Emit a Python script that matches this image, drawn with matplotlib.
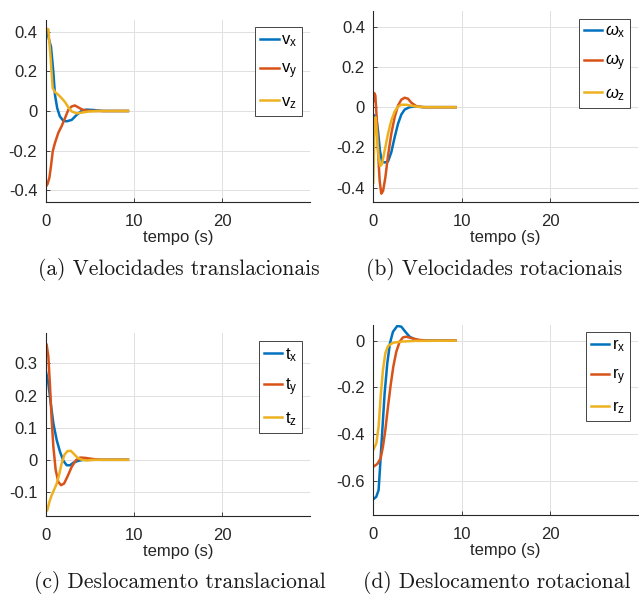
import matplotlib
matplotlib.use('Agg')
import matplotlib.pyplot as plt

plt.rcParams['font.family'] = ['Liberation Sans', 'DejaVu Sans']
plt.rcParams['mathtext.fontset'] = 'custom'
plt.rcParams['mathtext.rm'] = 'Liberation Sans'
plt.rcParams['mathtext.it'] = 'Liberation Sans:italic'

# --- (a) velocidades translacionais ---
t_vx = [0, 0.1, 0.49, 0.6, 0.86, 1.05, 1.3, 1.6, 2.0, 2.4, 2.94, 3.5, 4.1, 4.6, 5.4, 6.5, 9.3]
vx = [0.41, 0.41, 0.342, 0.325, 0.2, 0.082, 0.015, -0.027, -0.05, -0.052, -0.045, -0.02, 0.002, 0.007, 0.005, 0, 0]
t_vy = [0, 0.2, 0.42, 0.6, 0.8, 1.05, 1.43, 1.8, 2.19, 2.57, 2.94, 3.3, 3.7, 4.1, 4.6, 5.5, 9.3]
vy = [-0.384, -0.37, -0.337, -0.278, -0.203, -0.161, -0.11, -0.077, -0.035, 0.007, 0.023, 0.028, 0.018, 0.008, 0.002, 0, 0]
t_vz = [0, 0.3, 0.56, 0.79, 1.05, 1.43, 1.8, 2.19, 2.57, 2.94, 3.5, 4.1, 4.8, 5.8, 9.3]
vz = [0.417, 0.413, 0.267, 0.116, 0.096, 0.082, 0.065, 0.045, 0.018, -0.002, -0.012, -0.008, -0.003, 0, 0]

# --- (b) velocidades rotacionais ---
t_wx = [0, 0.34, 0.53, 0.75, 0.98, 1.28, 1.66, 2.03, 2.41, 2.79, 3.16, 3.54, 4.1, 4.67, 5.8, 9.3]
wx = [-0.037, -0.05, -0.117, -0.217, -0.27, -0.275, -0.27, -0.225, -0.15, -0.083, -0.037, -0.012, 0, 0.003, 0, 0]
t_wy = [0, 0.11, 0.23, 0.38, 0.53, 0.72, 0.9, 1.1, 1.36, 1.66, 2.03, 2.41, 2.79, 3.16, 3.54, 3.92, 4.3, 4.86, 5.6, 9.3]
wy = [0.03, 0.07, 0.058, -0.05, -0.217, -0.367, -0.43, -0.417, -0.35, -0.242, -0.133, -0.05, 0.008, 0.037, 0.047, 0.042, 0.022, 0.005, 0, 0]
t_wz = [0, 0.08, 0.15, 0.26, 0.41, 0.6, 0.79, 0.98, 1.28, 1.66, 2.03, 2.41, 2.79, 3.16, 3.73, 4.3, 5.05, 6.0, 9.3]
wz = [-0.375, -0.217, -0.067, -0.05, -0.133, -0.25, -0.292, -0.283, -0.217, -0.133, -0.067, -0.022, 0.003, 0.012, 0.012, 0.007, 0.002, 0, 0]

# --- (c) deslocamento translacional ---
t_tx = [0, 0.3, 0.57, 0.87, 1.25, 1.62, 2.0, 2.38, 2.75, 3.13, 3.7, 4.3, 9.3]
tx = [0.279, 0.238, 0.176, 0.113, 0.061, 0.025, -0.003, -0.017, -0.017, -0.009, -0.003, 0, 0]
t_ty = [0, 0.1, 0.3, 0.49, 0.68, 0.87, 1.13, 1.43, 1.74, 2.08, 2.45, 2.94, 3.43, 3.89, 4.45, 5.2, 6.2, 9.3]
ty = [0.357, 0.36, 0.322, 0.229, 0.124, 0.04, -0.032, -0.069, -0.079, -0.074, -0.053, -0.022, -0.001, 0.007, 0.006, 0.003, 0, 0]
t_tz = [0, 0.19, 0.42, 0.68, 0.94, 1.25, 1.55, 1.81, 2.11, 2.45, 2.83, 3.2, 3.58, 4.08, 4.64, 5.5, 9.3]
tz = [-0.162, -0.157, -0.131, -0.11, -0.094, -0.074, -0.043, -0.011, 0.015, 0.027, 0.028, 0.018, 0.007, 0, -0.002, 0, 0]

# --- (d) deslocamento rotacional ---
t_rx = [0, 0.34, 0.6, 0.79, 1.02, 1.28, 1.58, 1.88, 2.22, 2.71, 3.16, 3.62, 4.1, 4.67, 5.4, 9.3]
rx = [-0.678, -0.667, -0.638, -0.524, -0.382, -0.225, -0.097, -0.011, 0.038, 0.063, 0.06, 0.038, 0.017, 0.006, 0, 0]
t_ry = [0, 0.45, 0.83, 1.09, 1.36, 1.66, 1.96, 2.26, 2.6, 2.98, 3.35, 3.73, 4.3, 5.05, 6.0, 9.3]
ry = [-0.539, -0.527, -0.503, -0.453, -0.382, -0.282, -0.19, -0.111, -0.047, -0.004, 0.014, 0.017, 0.011, 0.004, 0, 0]
t_rz = [0, 0.34, 0.6, 0.83, 1.09, 1.36, 1.66, 2.22, 3.16, 4.67, 9.3]
rz = [-0.467, -0.439, -0.368, -0.239, -0.125, -0.054, -0.023, -0.009, -0.004, -0.001, 0]

cores = ['#0072BD', '#D95319', '#EDB120']

# posicao, series, legendas, ylim, yticks, legenda da figura, (x, y) da legenda
paineis = [
    ([0.0715, 0.6605, 0.4136, 0.3059], [(t_vx, vx), (t_vy, vy), (t_vz, vz)],
     ['$\\mathregular{v_x}$', '$\\mathregular{v_y}$', '$\\mathregular{v_z}$'],
     (-0.46, 0.46), [-0.4, -0.2, 0, 0.2, 0.4], '(a) Velocidades translacionais', (179, 270)),
    ([0.5842, 0.6610, 0.4142, 0.3205], [(t_wx, wx), (t_wy, wy), (t_wz, wz)],
     ['$\\omega_\\mathregular{x}$', '$\\omega_\\mathregular{y}$', '$\\omega_\\mathregular{z}$'],
     (-0.47, 0.478), [-0.4, -0.2, 0, 0.2, 0.4], '(b) Velocidades rotacionais', (494, 270)),
    ([0.0715, 0.1328, 0.4136, 0.3070], [(t_tx, tx), (t_ty, ty), (t_tz, tz)],
     ['$\\mathregular{t_x}$', '$\\mathregular{t_y}$', '$\\mathregular{t_z}$'],
     (-0.175, 0.394), [-0.1, 0, 0.1, 0.2, 0.3], '(c) Deslocamento translacional', (180, 582)),
    ([0.5842, 0.1345, 0.4142, 0.3193], [(t_rx, rx), (t_ry, ry), (t_rz, rz)],
     ['$\\mathregular{r_x}$', '$\\mathregular{r_y}$', '$\\mathregular{r_z}$'],
     (-0.745, 0.067), [-0.6, -0.4, -0.2, 0], '(d) Deslocamento rotacional', (497, 582)),
]

W, H = 639, 595
fig = plt.figure(figsize=(W / 100, H / 100), dpi=100)

for pos, series, labels, ylim, yticks, caption, cap in paineis:
    ax = fig.add_axes(pos)
    for (t, y), c, lab in zip(series, cores, labels):
        ax.plot(t, y, color=c, lw=1.8, label=lab)
    ax.set_xlim(0, 29.9)
    ax.set_ylim(*ylim)
    ax.set_xticks([0, 10, 20])
    ax.set_yticks(yticks)
    ax.set_yticklabels(['0' if v == 0 else f'{v:g}' for v in yticks])
    ax.grid(True, color='0.88', lw=0.7)
    ax.set_axisbelow(True)
    for s in ['top', 'right']:
        ax.spines[s].set_visible(False)
    for s in ['left', 'bottom']:
        ax.spines[s].set_color('0.15')
        ax.spines[s].set_linewidth(0.8)
    ax.tick_params(direction='in', length=3, width=0.6, colors='0.15', labelsize=12, pad=6)
    ax.tick_params(axis='x', pad=8.5)
    ax.set_xlabel('tempo (s)', fontsize=12, color='0.15', labelpad=1)
    leg = ax.legend(loc='upper right', fontsize=12, handlelength=1.1, handletextpad=0.15,
                    borderpad=0.3, labelspacing=0.75, borderaxespad=0.45, fancybox=False,
                    framealpha=1, edgecolor='0.15')
    leg.get_frame().set_linewidth(0.6)
    fig.text(cap[0] / W, 1 - cap[1] / H, caption, ha='center', va='center', fontsize=15.5,
             family='cmr10', color='0.1')

fig.savefig('out.png', dpi=100)
